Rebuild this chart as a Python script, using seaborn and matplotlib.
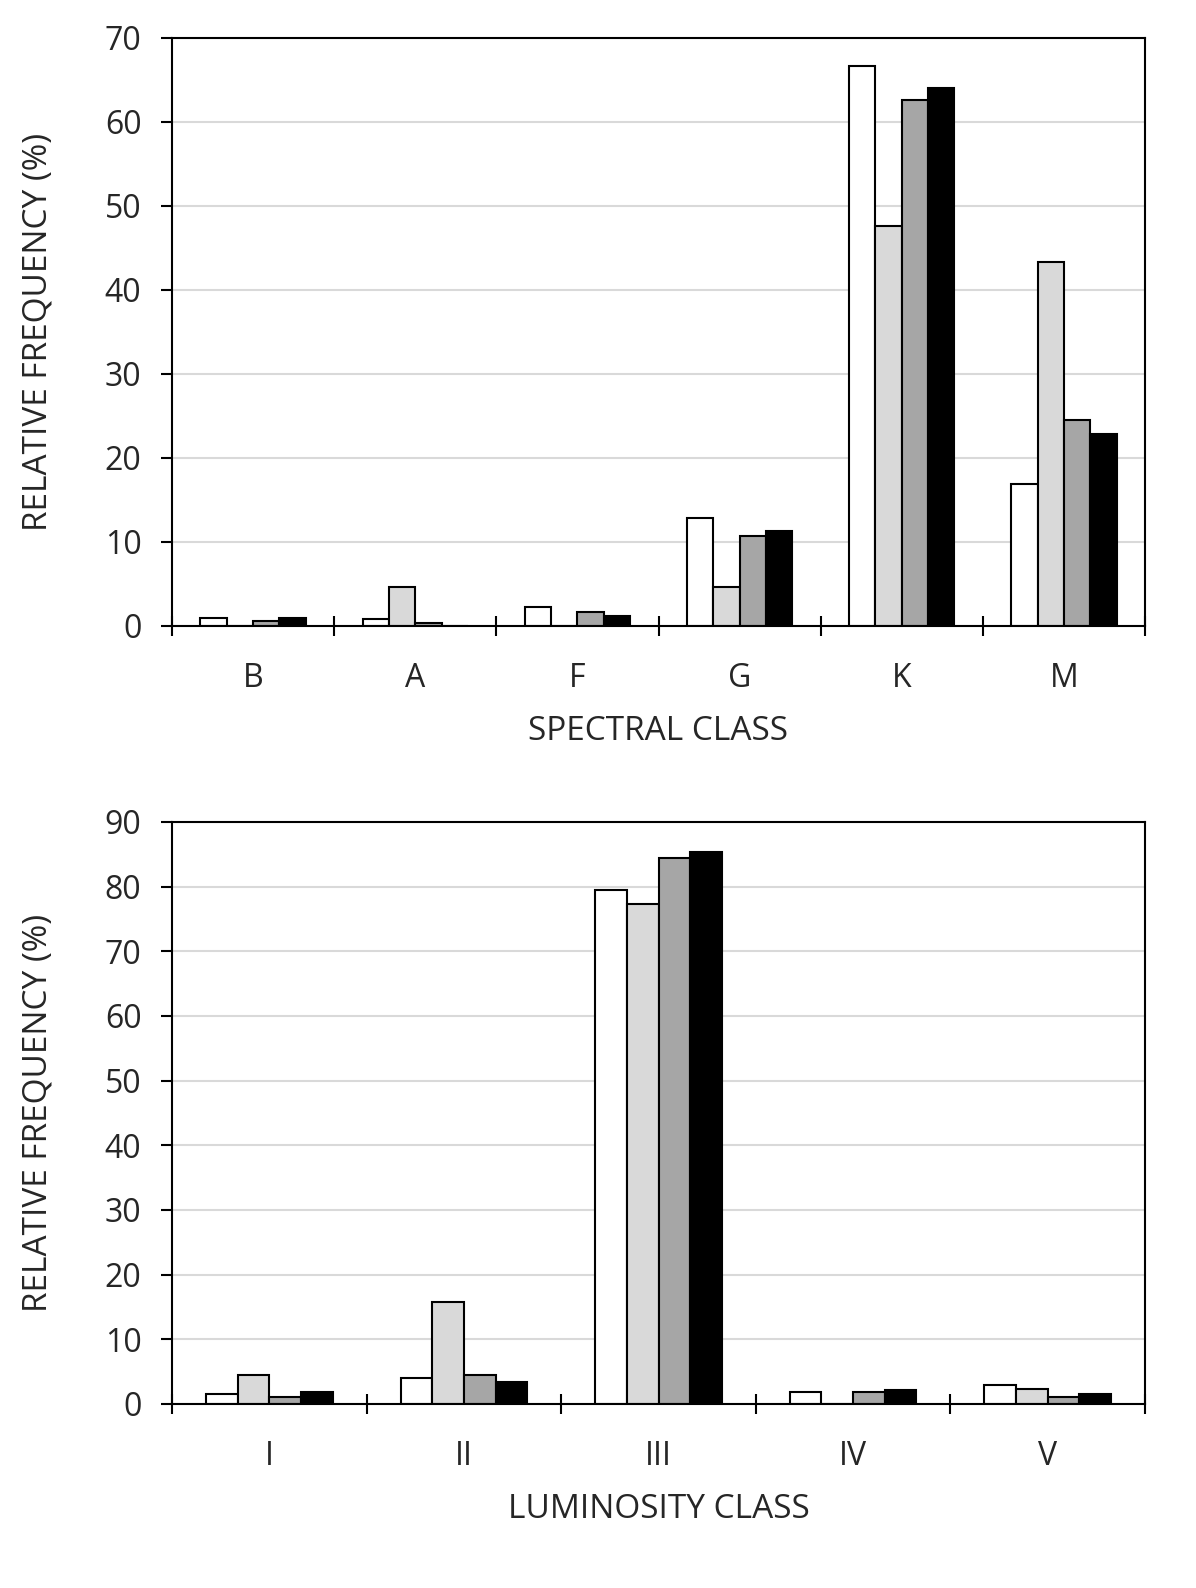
import numpy as np
import pandas as pd
import matplotlib
matplotlib.use('Agg')
import matplotlib.pyplot as plt
import seaborn as sns

# Datos
spectral = ['B', 'A', 'F', 'G', 'K', 'M']
spec_s1 = [0.9, 0.8, 2.3, 12.8, 66.7, 16.9]
spec_s2 = [0.0, 4.6, 0.0, 4.6, 47.6, 43.3]
spec_s3 = [0.6, 0.3, 1.7, 10.7, 62.6, 24.5]
spec_s4 = [0.9, 0.0, 1.2, 11.3, 64.1, 22.8]

luminosity = ['I', 'II', 'III', 'IV', 'V']
lum_s1 = [1.5, 4.0, 79.5, 1.8, 3.0]
lum_s2 = [4.5, 15.7, 77.3, 0.0, 2.3]
lum_s3 = [1.1, 4.5, 84.5, 1.8, 1.1]
lum_s4 = [1.8, 3.4, 85.3, 2.2, 1.5]

series = ['s1', 's2', 's3', 's4']
colors = ['white', '#d9d9d9', '#a6a6a6', 'black']


def to_long(cats, vals):
    rows = []
    for s, v in zip(series, vals):
        for c, y in zip(cats, v):
            rows.append({'cat': c, 'serie': s, 'val': y})
    return pd.DataFrame(rows)


def draw_panel(ax, cats, vals, ymax, xlabel):
    df = to_long(cats, vals)
    sns.barplot(data=df, x='cat', y='val', hue='serie', order=cats,
                hue_order=series, palette=colors, width=0.65,
                edgecolor='black', linewidth=1.5, legend=False, ax=ax)
    ax.set_ylim(0, ymax)
    ax.set_xlim(-0.5, len(cats) - 0.5)
    ax.set_yticks(np.arange(0, ymax + 1, 10))
    ax.yaxis.grid(True, color='#d9d9d9', linewidth=1.5)
    ax.set_axisbelow(True)
    for sp in ax.spines.values():
        sp.set_color('black')
        sp.set_linewidth(1.5)
    ax.tick_params(axis='y', left=True, length=8, width=1.5,
                   labelsize=23, pad=14, color='black')
    ax.tick_params(axis='x', which='major', length=0, labelsize=23, pad=26)
    ax.set_xticks(np.arange(-0.5, len(cats), 1), minor=True)
    ax.tick_params(axis='x', which='minor', bottom=True, direction='inout',
                   length=14, width=1.5, color='black')
    ax.set_xlabel(xlabel, fontsize=24, labelpad=14)
    ax.set_ylabel('RELATIVE FREQUENCY (%)', fontsize=24, labelpad=36)


sns.set_style('white')
plt.rcParams['font.family'] = ['Open Sans', 'DejaVu Sans']

fig = plt.figure(figsize=(11.96, 15.88), dpi=100)
ax1 = fig.add_axes([172 / 1196, 1 - 626 / 1588, 973 / 1196, 588 / 1588])
ax2 = fig.add_axes([172 / 1196, 1 - 1404 / 1588, 973 / 1196, 582 / 1588])

draw_panel(ax1, spectral, [spec_s1, spec_s2, spec_s3, spec_s4], 70,
           'SPECTRAL CLASS')
draw_panel(ax2, luminosity, [lum_s1, lum_s2, lum_s3, lum_s4], 90,
           'LUMINOSITY CLASS')

fig.savefig('out.png', dpi=100)
